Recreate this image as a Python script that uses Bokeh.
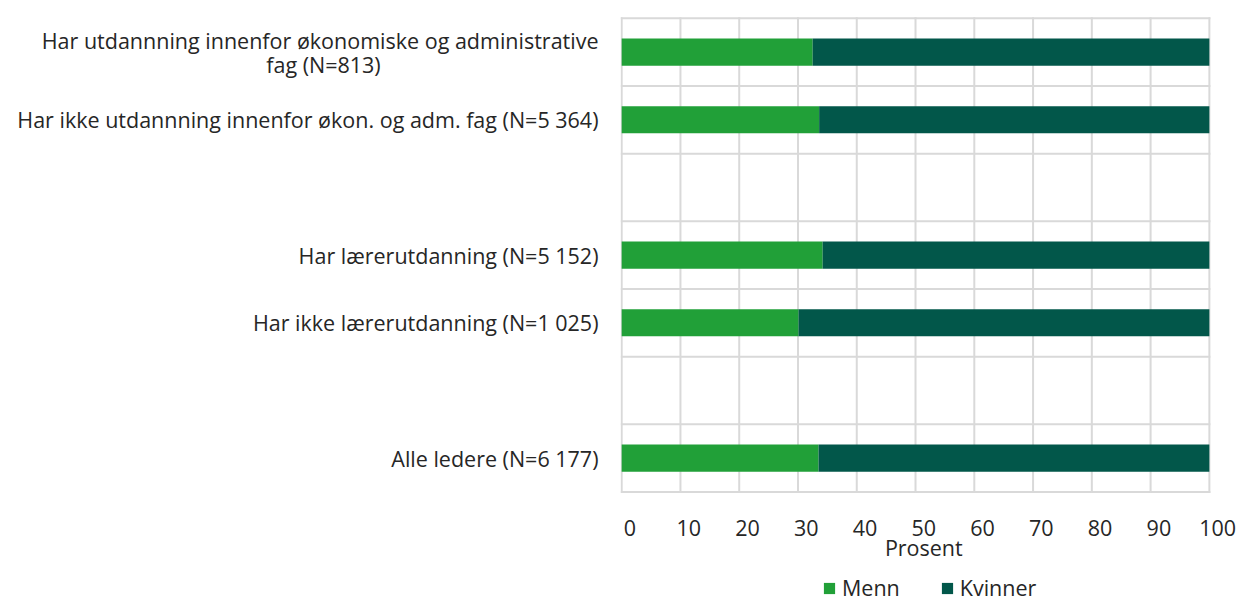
from bokeh.plotting import figure
from bokeh.models import (ColumnDataSource, Range1d, FixedTicker, Legend,
                          LegendItem)
from bokeh.core.properties import value
from bokeh.layouts import column
from bokeh.embed import file_html
from bokeh.resources import INLINE

NB = "\u00a0"
categories = [
    "Har utdannning innenfor økonomiske og administrative\nfag (N=813)" + NB * 39,
    "Har ikke utdannning innenfor økon. og adm. fag (N=5 364)",
    "",
    "Har lærerutdanning (N=5 152)",
    "Har ikke lærerutdanning (N=1 025)",
    "",
    "Alle ledere (N=6 177)",
]
menn = [32.5, 33.6, None, 34.2, 30.1, None, 33.5]
kvinner = [67.5, 66.4, None, 65.8, 69.9, None, 66.5]
x_ticks = [0, 10, 20, 30, 40, 50, 60, 70, 80, 90, 100]
x_title = "Prosent"
series = ["Menn", "Kvinner"]

FONT = "Open Sans"
FS = "21.5px"
TXT = "#262626"
GRID = "#d9d9d9"
C_MENN = "#21a038"
C_KV = "#02574a"

idx = [i for i, m in enumerate(menn) if m is not None]
ypos = [i + 0.5 for i in idx]
m_vals = [menn[i] for i in idx]
k_vals = [kvinner[i] for i in idx]
src = ColumnDataSource(dict(y=ypos, m0=[0] * len(idx), m1=m_vals,
                            k0=m_vals, k1=[a + b for a, b in zip(m_vals, k_vals)]))

n = len(categories)
W, H = 1252, 600
X0, X1 = -0.2, 107.0
Y_TOP, Y_BOT = -0.0266, 8.707
p = figure(width=W, height=H, x_range=Range1d(X0, X1),
           y_range=Range1d(Y_BOT, Y_TOP), output_backend="svg",
           toolbar_location=None, min_border_left=620, min_border_right=2,
           min_border_top=9, min_border_bottom=0)
p.outline_line_color = None
p.background_fill_color = "white"
p.border_fill_color = "white"
p.xaxis.visible = False
p.grid.visible = False

# grid lines (category boundaries and 10-step verticals), limited to the plot box
bounds = list(range(0, n + 1))
p.segment(x0=[-0.17] * len(bounds), x1=[100.17] * len(bounds), y0=bounds, y1=bounds,
          line_color=GRID, line_width=2)
p.segment(x0=x_ticks, x1=x_ticks, y0=[-0.015] * len(x_ticks),
          y1=[n + 0.015] * len(x_ticks), line_color=GRID, line_width=2)

r1 = p.hbar(y="y", left="m0", right="m1", height=0.4, source=src,
            fill_color=C_MENN, line_color=None)
r2 = p.hbar(y="y", left="k0", right="k1", height=0.4, source=src,
            fill_color=C_KV, line_color=None)

# x tick labels and axis title (Excel-style, shifted slightly right)
shift = 1.41
lab_src = ColumnDataSource(dict(x=[t + shift for t in x_ticks],
                                y=[n + 0.525] * len(x_ticks),
                                t=[str(t) for t in x_ticks]))
p.text(x="x", y="y", text="t", source=lab_src, text_align="center",
       text_baseline="middle", text_font=value(FONT), text_font_size=FS,
       text_color=TXT)
p.text(x=[(x_ticks[0] + x_ticks[-1]) / 2 + shift], y=[n + 0.82], text=[x_title],
       text_align="center", text_baseline="middle", text_font=value(FONT),
       text_font_size=FS, text_color=TXT)

ya = p.yaxis[0]
ya.ticker = FixedTicker(ticks=ypos)
ya.major_label_overrides = {y: categories[i] for y, i in zip(ypos, idx)}
ya.axis_line_color = None
ya.major_tick_line_color = None
ya.minor_tick_line_color = None
ya.major_tick_out = 0
ya.major_tick_in = 0
ya.major_label_standoff = 22
ya.major_label_text_font = FONT
ya.major_label_text_font_size = FS
ya.major_label_text_color = TXT
ya.major_label_text_line_height = 0.82

legend = Legend(items=[LegendItem(label=series[0], renderers=[r1]),
                       LegendItem(label=series[1], renderers=[r2])],
                orientation="horizontal", location=(202, 5),
                glyph_width=14, glyph_height=14, label_standoff=6,
                spacing=40, padding=0, margin=0, border_line_color=None,
                background_fill_alpha=0,
                label_text_font=FONT, label_text_font_size=FS,
                label_text_color=TXT)
p.add_layout(legend, "center")

# thin black rule across the top of the page
top_line = figure(width=W, height=7, output_backend="svg",
                  toolbar_location=None, min_border_top=4, min_border_bottom=0,
                  min_border_left=0, min_border_right=0,
                  x_axis_location=None, y_axis_location=None,
                  x_range=Range1d(0, 1), y_range=Range1d(0, 1))
top_line.background_fill_color = "black"
top_line.border_fill_color = "white"
top_line.outline_line_color = None
top_line.grid.visible = False

layout = column(top_line, p, spacing=0)

open("out.html", "w").write(file_html(layout, INLINE))
